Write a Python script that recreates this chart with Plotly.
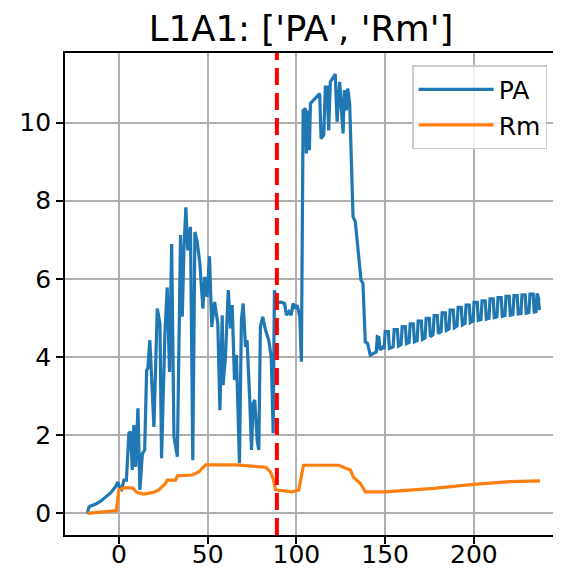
import plotly.graph_objects as go

# ---- data ----
pa_x = [-17.8, -17.0, -15.9, -13.0, -10.3, -7.5, -4.7, -2.0, -0.5, 0.5, 1.5, 2.8, 4.2, 5.6, 6.6, 7.5, 8.4,
        9.4, 10.7, 11.8, 13.2, 14.5, 15.6, 16.3, 17.4, 18.4, 19.7, 21.6, 23.1, 24.0, 25.9, 27.2, 28.5, 29.7,
        31.0, 32.9, 34.7, 35.7, 36.6, 37.7, 38.8, 40.3, 41.6, 42.8, 44.1, 45.6, 47.3, 48.4, 49.7, 51.0, 52.3,
        53.9, 55.7, 56.9, 58.2, 58.7, 60.0, 61.6, 62.9, 63.8, 65.1, 66.2, 67.9, 69.0, 70.0, 71.3, 72.2, 73.7,
        74.7, 75.6, 76.5, 77.9, 78.8, 79.7, 81.0, 82.6, 84.4, 85.8, 86.9, 87.6, 89.1, 91.0, 93.3, 94.4, 95.7,
        97.0, 98.1, 99.4, 100.4, 101.9, 102.8, 103.8, 105.1, 105.6, 106.4, 107.3, 107.9, 113.1, 113.9, 115.4,
        116.3, 117.3, 118.2, 119.1, 121.9, 122.9, 124.4, 125.3, 126.3, 127.0, 128.1, 128.9, 130.0, 131.9,
        133.2, 136.4, 137.5, 138.8, 140.1, 141.6, 143.5, 145.0, 145.6, 146.5, 147.1, 148.8,
        149.4, 150.0, 151.8, 152.4,
        154.5, 155.1, 156.9, 157.5,
        159.0, 159.6, 161.4, 162.0,
        163.5, 164.1, 165.9, 166.5,
        168.0, 168.6, 170.4, 171.0,
        172.5, 173.1, 174.9, 175.5,
        177.0, 177.6, 179.4, 180.0,
        181.5, 182.1, 183.9, 184.5,
        186.0, 186.6, 188.4, 189.0,
        190.5, 191.1, 192.9, 193.5,
        195.0, 195.6, 197.4, 198.0,
        199.5, 200.1, 201.9, 202.5,
        204.0, 204.6, 206.4, 207.0,
        208.5, 209.1, 210.9, 211.5,
        213.0, 213.6, 215.4, 216.0,
        217.5, 218.1, 219.9, 220.5,
        222.0, 222.6, 224.4, 225.0,
        226.5, 227.1, 228.9, 229.5,
        231.0, 231.6, 233.4, 234.0,
        235.0, 235.6, 236.4, 236.9]
pa_y = [0.0, 0.15, 0.19, 0.24, 0.31, 0.41, 0.52, 0.68, 0.80, 0.62, 0.60, 0.85, 0.85, 2.05, 2.09, 1.11, 2.26,
        1.19, 2.69, 0.60, 1.53, 1.62, 3.66, 3.71, 4.43, 3.49, 2.21, 5.24, 4.86, 1.41, 4.60, 5.78, 3.62, 6.89,
        1.96, 1.45, 7.12, 5.03, 6.73, 7.83, 6.73, 7.33, 1.36, 7.20, 6.95, 6.39, 5.24, 6.05, 5.54, 6.58, 4.77,
        5.41, 4.86, 2.64, 5.07, 3.28, 4.00, 5.71, 4.73, 5.33, 3.41, 4.05, 1.28, 4.94, 5.37, 4.26, 4.43, 2.90,
        1.62, 2.81, 2.90, 1.87, 1.62, 4.77, 5.03, 4.69, 4.43, 4.00, 2.05, 5.71, 5.37, 5.41, 5.37, 5.07, 5.16,
        5.07, 5.37, 5.24, 5.33, 5.03, 3.88, 10.31, 10.36, 9.21, 10.31, 9.29, 10.49, 10.74, 9.59, 9.68,
        10.91, 10.91, 9.80, 11.04, 11.24, 10.02, 11.04, 10.40, 9.72, 10.83, 10.31, 10.87, 10.49, 7.60,
        7.46, 5.97, 5.88, 4.39, 4.35, 4.05, 4.09, 4.13, 4.52, 4.50, 4.18, 4.26,
        4.20, 4.65, 4.65, 4.22,
        4.26, 4.70, 4.70, 4.28,
        4.32, 4.78, 4.78, 4.34,
        4.37, 4.85, 4.85, 4.39,
        4.42, 4.92, 4.92, 4.45,
        4.49, 4.99, 4.99, 4.52,
        4.57, 5.06, 5.06, 4.60,
        4.65, 5.13, 5.13, 4.68,
        4.72, 5.20, 5.20, 4.75,
        4.79, 5.27, 5.27, 4.82,
        4.86, 5.33, 5.33, 4.88,
        4.92, 5.40, 5.40, 4.94,
        4.96, 5.44, 5.44, 4.97,
        4.99, 5.49, 5.49, 5.01,
        5.03, 5.52, 5.52, 5.04,
        5.06, 5.55, 5.55, 5.07,
        5.09, 5.57, 5.57, 5.10,
        5.11, 5.59, 5.59, 5.12,
        5.14, 5.61, 5.61, 5.15,
        5.16, 5.63, 5.50, 5.20]

rm_x = [-17.8, -1.5, 0.0, 2.8, 7.5, 10.3, 14.1, 19.7, 22.5, 26.3, 27.2, 31.9, 32.9, 41.3, 45.0, 48.8,
        65.7, 82.6, 85.4, 87.2, 88.2, 97.6, 101.3, 103.5, 104.0, 123.8, 130.4, 132.2, 136.0, 138.8,
        150.0, 177.3, 199.8, 220.4, 237.3]
rm_y = [0.0, 0.07, 0.60, 0.65, 0.65, 0.53, 0.49, 0.54, 0.60, 0.77, 0.85, 0.85, 0.96, 0.98, 1.06, 1.24,
        1.24, 1.18, 1.06, 0.85, 0.60, 0.55, 0.60, 1.19, 1.23, 1.23, 1.11, 0.92, 0.77, 0.55,
        0.55, 0.64, 0.74, 0.81, 0.83]

vline_x = 89
title_text = "L1A1: ['PA', 'Rm']"
x_ticks = [0, 50, 100, 150, 200]
y_ticks = [0, 2, 4, 6, 8, 10]

FONT = "DejaVu Sans"

fig = go.Figure()
fig.add_trace(go.Scatter(x=pa_x, y=pa_y, mode="lines", name="PA", legendgroup="a",
                         line=dict(color="#1f77b4", width=3.2)))
fig.add_trace(go.Scatter(x=rm_x, y=rm_y, mode="lines", name="Rm", legendgroup="b",
                         line=dict(color="#ff7f0e", width=3.2)))

fig.add_shape(type="line", x0=vline_x, x1=vline_x, xref="x", y0=0, y1=1, yref="y domain",
              line=dict(color="red", width=4, dash="17px,8px"), layer="above")

axis_common = dict(showline=True, linecolor="black", linewidth=1.8, mirror=True,
                   ticks="outside", ticklen=7, tickwidth=1.8, tickcolor="black",
                   showgrid=True, gridcolor="#b0b0b0", gridwidth=1.8, zeroline=False,
                   automargin=False,
                   tickfont=dict(family=FONT, size=25, color="black"))

# page body adds an 8px offset, so the figure is sized/placed to compensate
fig.update_layout(
    width=553, height=577,
    margin=dict(l=57, r=3, t=45, b=50, autoexpand=False),
    paper_bgcolor="white", plot_bgcolor="white",
    title=dict(text=title_text, x=0.53, xanchor="center", y=1 - 21 / 577, yanchor="middle",
               font=dict(family=FONT, size=35.5, color="black")),
    xaxis=dict(range=[-30.4, 247.4], tickvals=x_ticks, ticklabelstandoff=-11, **axis_common),
    yaxis=dict(range=[-0.555, 11.78], tickvals=y_ticks, **axis_common),
    legend=dict(x=0.978, y=0.975, xanchor="right", yanchor="top",
                bgcolor="rgba(255,255,255,0.8)", bordercolor="#cccccc", borderwidth=1.5,
                font=dict(family=FONT, size=25, color="black"), tracegroupgap=0,
                itemwidth=75),
    showlegend=True,
)

fig.write_html("out.html")
